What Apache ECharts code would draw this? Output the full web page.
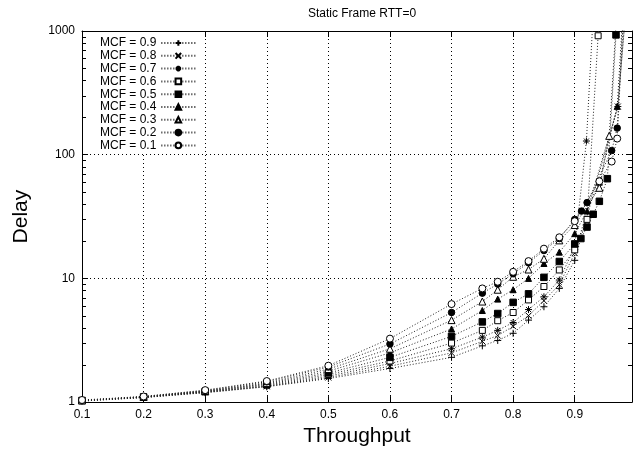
<!DOCTYPE html>
<html><head><meta charset="utf-8">
<script src="https://cdn.jsdelivr.net/npm/echarts@6/dist/echarts.min.js"></script>
<style>html,body{margin:0;padding:0;background:#fff}#c{width:635px;height:452px}</style>
</head><body><div id="c"></div>
<script>
const FONT = "'Liberation Sans', Arial, sans-serif";
const titleText = 'Static Frame RTT=0';
const xName = 'Throughput';
const yName = 'Delay';
const xTicks = [0.1,0.2,0.3,0.4,0.5,0.6,0.7,0.8,0.9];
const yMinorTicks = [2,3,4,5,6,7,8,9,20,30,40,50,60,70,80,90,200,300,400,500,600,700,800,900];
const seriesNames = ['MCF = 0.9','MCF = 0.8','MCF = 0.7','MCF = 0.6','MCF = 0.5','MCF = 0.4','MCF = 0.3','MCF = 0.2','MCF = 0.1'];

const mcf09 = [[0.1,1.02],[0.2,1.09],[0.3,1.19],[0.4,1.33],[0.5,1.55],[0.6,1.87],[0.7,2.3],[0.75,2.85],[0.775,3.15],[0.8,3.6],[0.825,4.6],[0.85,5.9],[0.875,8.3],[0.9,14],[0.97,245],[0.99,4000]];
const mcf08 = [[0.1,1.02],[0.2,1.09],[0.3,1.2],[0.4,1.34],[0.5,1.58],[0.6,1.95],[0.7,2.5],[0.75,3.1],[0.775,3.45],[0.8,4.1],[0.825,5.0],[0.85,6.6],[0.875,8.9],[0.9,16],[0.97,245],[0.99,4000]];
const mcf07 = [[0.1,1.03],[0.2,1.09],[0.3,1.2],[0.4,1.35],[0.5,1.62],[0.6,2.05],[0.7,2.7],[0.75,3.35],[0.775,3.8],[0.8,4.4],[0.825,5.6],[0.85,7.1],[0.875,9.7],[0.9,18],[0.919,129],[0.935,4000]];
const mcf06 = [[0.1,1.03],[0.2,1.1],[0.3,1.21],[0.4,1.37],[0.5,1.67],[0.6,2.15],[0.7,3.0],[0.75,3.8],[0.775,4.55],[0.8,5.3],[0.825,6.7],[0.85,8.6],[0.875,11.7],[0.9,17],[0.92,30],[0.938,915],[0.95,5000]];
const mcf05 = [[0.1,1.03],[0.2,1.1],[0.3,1.22],[0.4,1.39],[0.5,1.72],[0.6,2.3],[0.7,3.4],[0.75,4.45],[0.775,5.2],[0.8,6.4],[0.825,7.5],[0.85,10.2],[0.875,13.7],[0.9,19],[0.91,21],[0.92,26],[0.93,33],[0.94,42],[0.953,64],[0.967,930],[0.98,5000]];
const mcf04 = [[0.1,1.03],[0.2,1.1],[0.3,1.22],[0.4,1.41],[0.5,1.78],[0.6,2.5],[0.7,3.9],[0.75,5.5],[0.775,6.8],[0.8,8.1],[0.825,10],[0.85,13.2],[0.875,16.3],[0.9,23],[0.92,35],[0.94,60],[0.969,246],[0.985,5000]];
const mcf03 = [[0.1,1.03],[0.2,1.1],[0.3,1.23],[0.4,1.43],[0.5,1.85],[0.6,2.7],[0.7,4.6],[0.75,6.5],[0.775,8.1],[0.8,10.3],[0.825,11.8],[0.85,14.4],[0.875,20.3],[0.9,27],[0.94,54],[0.956,142],[0.975,5000]];
const mcf02 = [[0.1,1.03],[0.2,1.11],[0.3,1.24],[0.4,1.46],[0.5,1.92],[0.6,2.95],[0.7,5.3],[0.75,7.6],[0.775,9.0],[0.8,10.9],[0.825,13.4],[0.85,16.8],[0.875,21],[0.9,30],[0.911,35],[0.92,41],[0.96,108],[0.969,164],[0.985,5000]];
const mcf01 = [[0.1,1.04],[0.2,1.11],[0.3,1.25],[0.4,1.48],[0.5,1.97],[0.6,3.26],[0.7,6.2],[0.75,8.3],[0.775,9.4],[0.8,11.3],[0.825,13.8],[0.85,17.4],[0.875,21.5],[0.9,29],[0.94,61],[0.96,88],[0.969,135],[0.985,5000]];

const X_MIN = 0.1, X_MAX = 0.993, Y_MIN = 1, Y_MAX = 1000;

const PLUS = 'path://M0,5L10,5M5,0L5,10';
const CROSS = 'path://M0,0L10,10M0,10L10,0';
const STAR = 'path://M0,5L10,5M5,0L5,10M1.5,1.5L8.5,8.5M1.5,8.5L8.5,1.5';
const markers = [
  {symbol: PLUS, size: 7, fill: 'none'},
  {symbol: CROSS, size: 6, fill: 'none'},
  {symbol: STAR, size: 7, fill: 'none'},
  {symbol: 'rect', size: 6, fill: '#fff'},
  {symbol: 'rect', size: 6.5, fill: '#000'},
  {symbol: 'triangle', size: 6, fill: '#000'},
  {symbol: 'triangle', size: 7, fill: '#fff'},
  {symbol: 'circle', size: 6.5, fill: '#000'},
  {symbol: 'circle', size: 7, fill: '#fff'}
];
const allData = [mcf09, mcf08, mcf07, mcf06, mcf05, mcf04, mcf03, mcf02, mcf01];

const series = allData.map((d, i) => ({
  name: seriesNames[i],
  type: 'line',
  data: d,
  symbol: markers[i].symbol,
  symbolSize: markers[i].size,
  showAllSymbol: true,
  clip: true,
  lineStyle: {color: '#222', width: 1, type: [1, 2]},
  itemStyle: {color: markers[i].fill, borderColor: '#000', borderWidth: 1},
  emphasis: {disabled: true},
  animation: false,
  z: 3
}));

series.push({
  type: 'custom',
  name: 'minorTicks',
  data: yMinorTicks.map(v => [X_MIN, v]),
  silent: true,
  animation: false,
  renderItem: function (params, api) {
    const p = api.coord([api.value(0), api.value(1)]);
    const cs = params.coordSys;
    const y = Math.round(p[1]) + 0.5;
    return {type: 'group', children: [
      {type: 'line', shape: {x1: cs.x, y1: y, x2: cs.x + 4, y2: y}, style: {stroke: '#000', lineWidth: 1}},
      {type: 'line', shape: {x1: cs.x + cs.width, y1: y, x2: cs.x + cs.width - 4, y2: y}, style: {stroke: '#000', lineWidth: 1}}
    ]};
  }
});

const fmtX = v => (v > 0.95 ? '' : (Math.round(v * 10) / 10).toString());
const fmtY = v => String(Math.round(v));

const chart = echarts.init(document.getElementById('c'), null, {renderer: 'canvas'});
chart.setOption({
  backgroundColor: '#fff',
  animation: false,
  textStyle: {fontFamily: FONT, color: '#000'},
  title: {
    text: titleText, left: 357, top: 3, textAlign: 'center',
    textStyle: {fontSize: 12, fontWeight: 'normal', color: '#000', fontFamily: FONT}
  },
  grid: {left: 82, right: 3, top: 31, bottom: 45, containLabel: false},
  legend: {
    data: seriesNames,
    orient: 'vertical', left: 95, top: 32, align: 'right',
    itemWidth: 34, itemHeight: 7, itemGap: 0.8,
    padding: [5, 8, 2, 5],
    backgroundColor: '#fff',
    selectedMode: false,
    textStyle: {fontSize: 12, color: '#000', fontFamily: FONT, lineHeight: 12}
  },
  xAxis: [{
    type: 'value', min: X_MIN, max: X_MAX, interval: 0.1,
    name: xName, nameLocation: 'middle', nameGap: 16,
    nameTextStyle: {fontSize: 21, color: '#000', fontFamily: FONT},
    axisLine: {show: true, onZero: false, lineStyle: {color: '#000', width: 1}},
    axisTick: {show: true, inside: true, length: 6, lineStyle: {color: '#000'}},
    axisLabel: {fontSize: 12, color: '#000', margin: 7, formatter: fmtX, fontFamily: FONT},
    splitLine: {show: true, lineStyle: {color: '#000', width: 1, type: [1, 3]}}
  }, {
    type: 'value', min: X_MIN, max: X_MAX, interval: 0.1, position: 'top',
    axisLine: {show: true, onZero: false, lineStyle: {color: '#000', width: 1}},
    axisTick: {show: true, inside: true, length: 6, lineStyle: {color: '#000'}},
    axisLabel: {show: false},
    splitLine: {show: false}
  }],
  yAxis: [{
    type: 'log', logBase: 10, min: Y_MIN, max: Y_MAX,
    name: yName, nameLocation: 'middle', nameGap: 50, nameRotate: 90,
    nameTextStyle: {fontSize: 21, color: '#000', fontFamily: FONT},
    axisLine: {show: true, onZero: false, lineStyle: {color: '#000', width: 1}},
    axisTick: {show: true, inside: true, length: 6, lineStyle: {color: '#000'}},
    axisLabel: {fontSize: 12, color: '#000', margin: 7, formatter: fmtY, fontFamily: FONT},
    splitLine: {show: true, lineStyle: {color: '#000', width: 1, type: [1, 3]}}
  }, {
    type: 'log', logBase: 10, min: Y_MIN, max: Y_MAX, position: 'right',
    axisLine: {show: true, onZero: false, lineStyle: {color: '#000', width: 1}},
    axisTick: {show: true, inside: true, length: 6, lineStyle: {color: '#000'}},
    axisLabel: {show: false},
    splitLine: {show: false}
  }],
  series: series
});
</script>
</body></html>
